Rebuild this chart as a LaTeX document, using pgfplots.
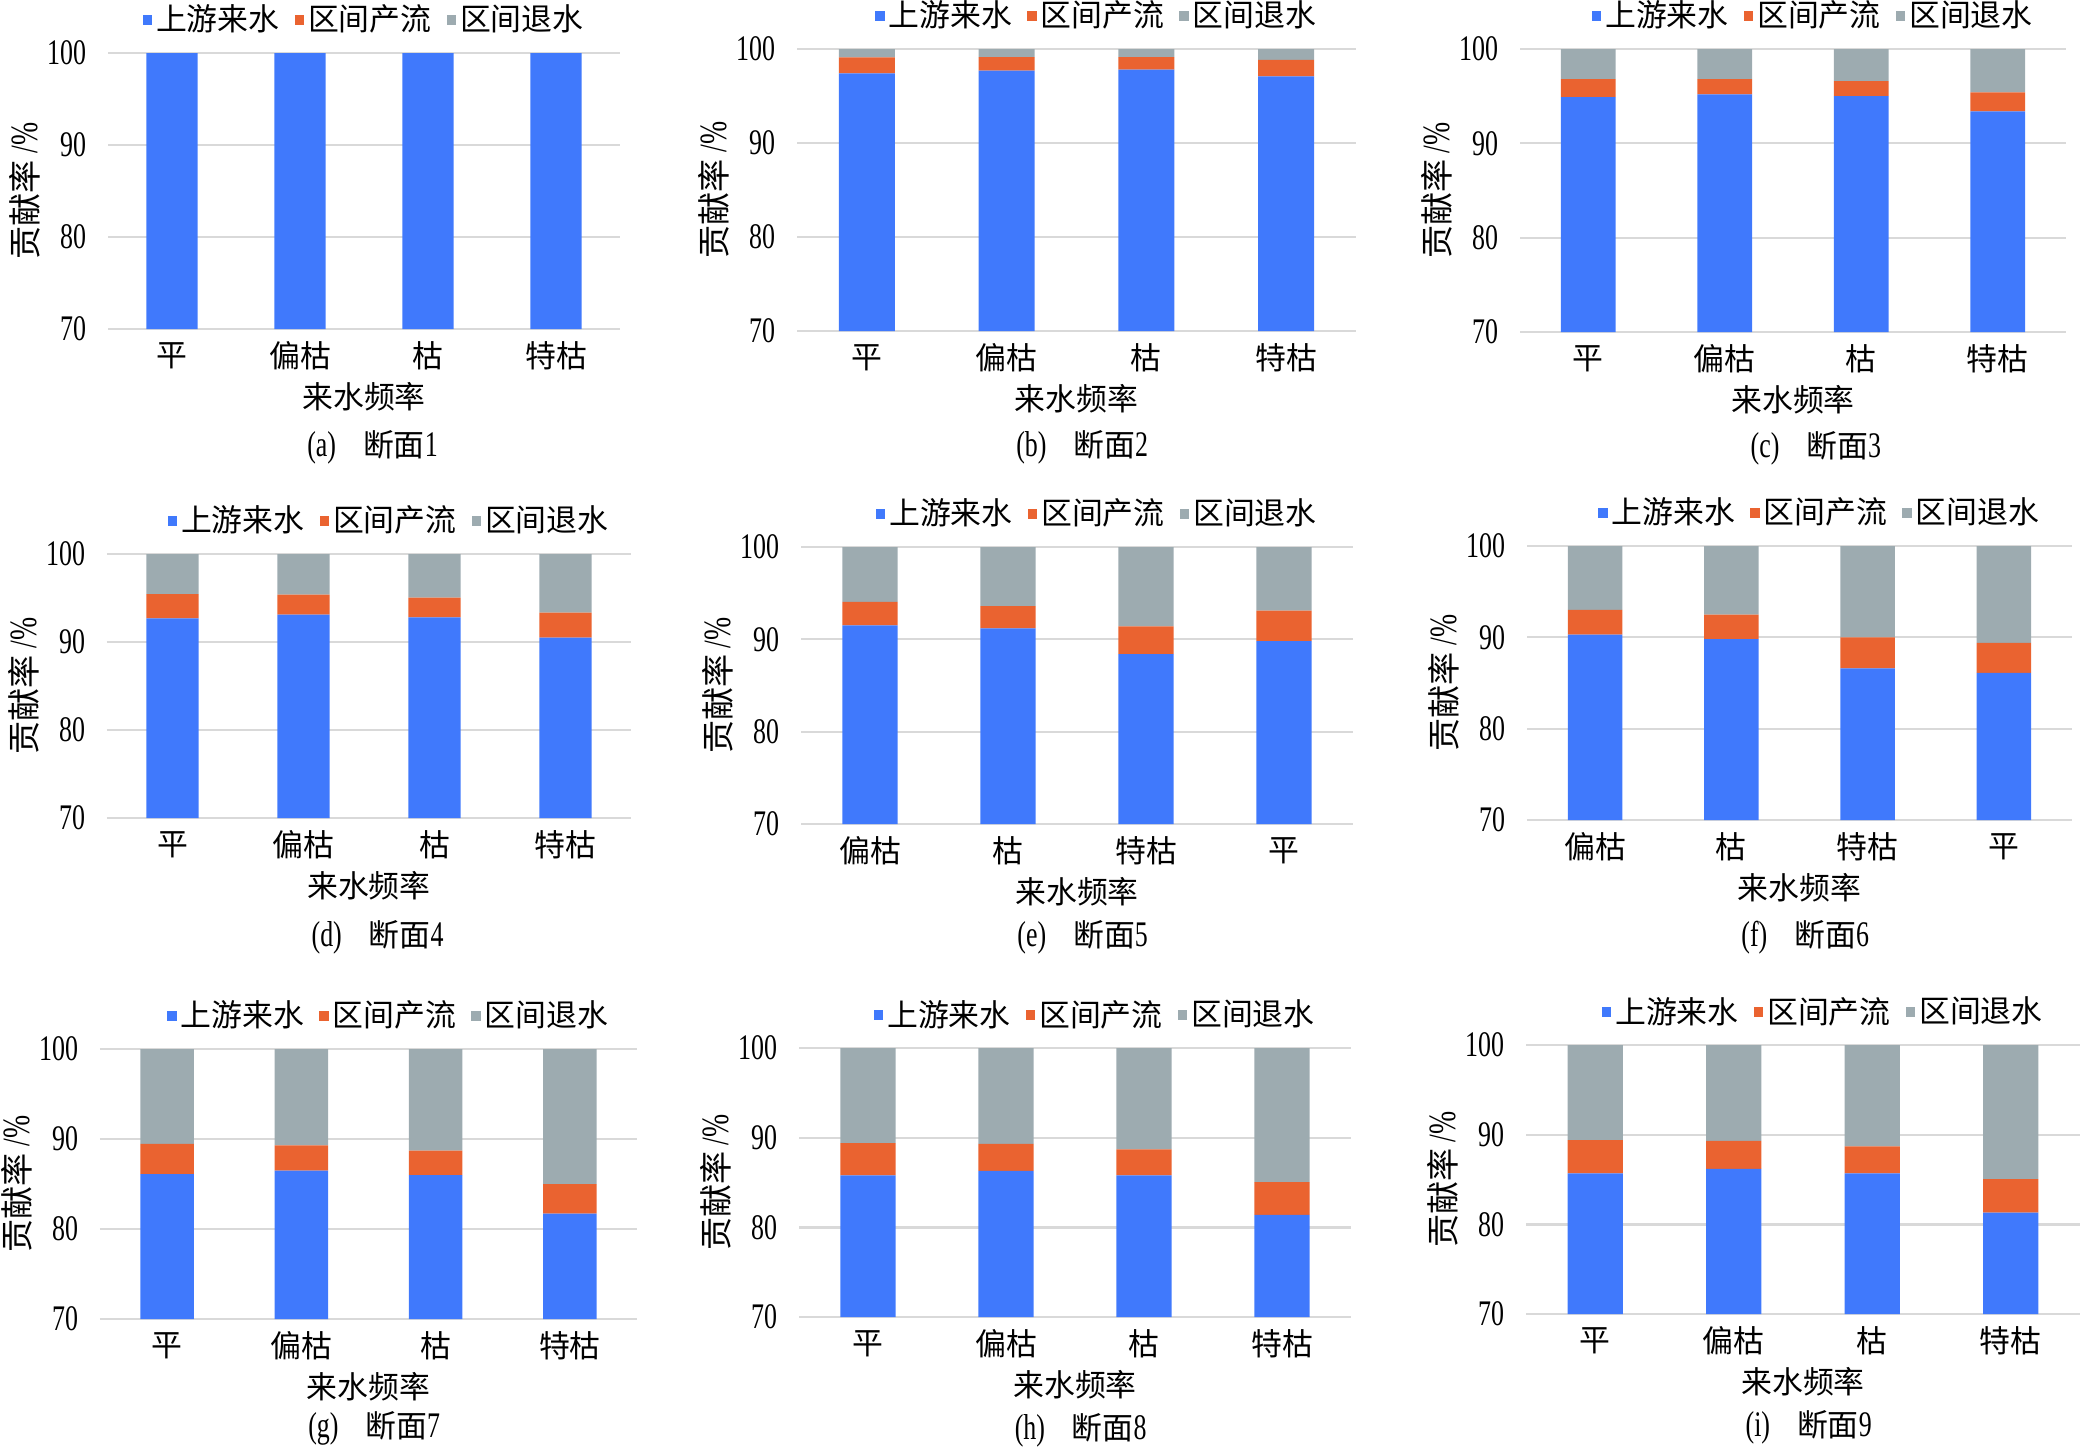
\documentclass[border=0pt]{standalone}
\usepackage{fontspec}
\setmainfont{Liberation Serif}[FakeStretch=0.72]
\newfontfamily\cjk{Noto Sans CJK SC}
\usepackage{pgfplots}
\pgfplotsset{compat=1.18}
\usepackage{pgfplotstable}

\definecolor{cUp}{RGB}{64,121,252}
\definecolor{cRun}{RGB}{234,99,48}
\definecolor{cRet}{RGB}{157,171,176}
\definecolor{cGrid}{RGB}{217,217,217}

% columns: i = category index, up = 上游来水, run = 区间产流, ret = 区间退水
\pgfplotstableread{
i up run ret
0 100 0 0
1 100 0 0
2 100 0 0
3 100 0 0
}\dA
\pgfplotstableread{
i up run ret
0 97.4 1.7 0.9
1 97.7 1.45 0.85
2 97.8 1.35 0.85
3 97.1 1.75 1.15
}\dB
\pgfplotstableread{
i up run ret
0 94.9 1.9 3.2
1 95.2 1.6 3.2
2 95.0 1.6 3.4
3 93.4 2.0 4.6
}\dC
\pgfplotstableread{
i up run ret
0 92.7 2.75 4.55
1 93.1 2.3 4.6
2 92.8 2.25 4.95
3 90.5 2.85 6.65
}\dD
\pgfplotstableread{
i up run ret
0 91.5 2.55 5.95
1 91.2 2.4 6.4
2 88.4 3.0 8.6
3 89.8 3.3 6.9
}\dE
\pgfplotstableread{
i up run ret
0 90.3 2.7 7.0
1 89.8 2.7 7.5
2 86.6 3.4 10.0
3 86.1 3.3 10.6
}\dF
\pgfplotstableread{
i up run ret
0 86.1 3.35 10.55
1 86.5 2.8 10.7
2 86.0 2.7 11.3
3 81.7 3.3 15.0
}\dG
\pgfplotstableread{
i up run ret
0 85.8 3.6 10.6
1 86.3 3.0 10.7
2 85.8 2.9 11.3
3 81.4 3.65 14.95
}\dH
\pgfplotstableread{
i up run ret
0 85.7 3.7 10.6
1 86.2 3.1 10.7
2 85.7 3.0 11.3
3 81.3 3.75 14.95
}\dI

\newcommand\cjkfont{\cjk\fontsize{10.8}{12}\selectfont}
\newcommand\latfont{\fontsize{12.6}{14}\selectfont}

\pgfplotsset{
  panel/.style={
    scale only axis, anchor=south west,
    ybar stacked, bar width=0.4,
    legend image code/.code={\fill[##1] (0pt,-1.7pt) rectangle (3.4pt,1.7pt);},
    xmin=-0.5, xmax=3.5, ymin=70, ymax=100,
    xtick={0,1,2,3}, ytick={70,80,90,100},
    ymajorgrids, grid style={cGrid, line width=0.8pt},
    axis line style={draw=none}, major tick length=0pt,
    clip mode=individual,
    /pgf/number format/assume math mode=true,
    yticklabel style={font=\latfont, anchor=east, inner sep=0pt, xshift=-7.5pt},
    xticklabel style={font=\cjkfont, anchor=center, inner sep=0pt, yshift=-9.45pt},
    legend style={at={(0.5,1)}, anchor=center, yshift=11.5pt, xshift=7.35pt,
      legend columns=3, draw=none, fill=none, inner sep=0pt,
      font=\cjkfont,
      nodes={inner sep=1.3pt},
      /tikz/every even column/.append style={column sep=4pt}},
  },
}

% one panel's three series and its axis labels
\newcommand\series[1]{%
  \addplot[fill=cUp, draw=none] table[x=i, y=up] {#1};
  \addlegendentry{上游来水}
  \addplot[fill=cRun, draw=none] table[x=i, y=run] {#1};
  \addlegendentry{区间产流}
  \addplot[fill=cRet, draw=none] table[x=i, y=ret] {#1};
  \addlegendentry{区间退水}
  \node[font=\cjkfont, yshift=-23.8pt] at (rel axis cs:0.5,0) {来水频率};
  \node[font=\fontsize{13.5}{14}\selectfont, rotate=90, yshift=29pt] at (rel axis cs:0,0.5) {{\cjk\fontsize{11.6}{12}\selectfont 贡献率}\,/\%};
}
% caption below a panel: letter, number, vertical offset, horizontal offset
\newcommand\panelcap[4]{%
  \node[font=\latfont, yshift=#3, xshift=#4] at (rel axis cs:0.5,0) {(#1)\hspace{0.75em}{\cjkfont 断面}#2};
}

\begin{document}
\begin{tikzpicture}
\useasboundingbox (0,0) rectangle (728pt,-506.8pt);

\begin{axis}[panel, at={(37.8pt,-115.15pt)}, width=179.2pt, height=96.6pt,
  xticklabels={平,偏枯,枯,特枯}, legend style={xshift=-7pt}]
\series{\dA}
\panelcap{a}{1}{-41.3pt}{3pt}
\end{axis}

\begin{axis}[panel, at={(278.95pt,-115.85pt)}, width=195.65pt, height=98.7pt,
  xticklabels={平,偏枯,枯,特枯}]
\series{\dB}
\panelcap{b}{2}{-40.6pt}{2pt}
\end{axis}

\begin{axis}[panel, at={(532pt,-116.2pt)}, width=191.1pt, height=99.05pt,
  xticklabels={平,偏枯,枯,特枯}]
\series{\dC}
\panelcap{c}{3}{-40.6pt}{8pt}
\end{axis}

\begin{axis}[panel, at={(37.45pt,-286.3pt)}, width=183.4pt, height=92.4pt,
  xticklabels={平,偏枯,枯,特枯}]
\series{\dD}
\panelcap{d}{4}{-41.6pt}{3pt}
\end{axis}

\begin{axis}[panel, at={(280.35pt,-288.4pt)}, width=193.2pt, height=96.95pt,
  xticklabels={偏枯,枯,特枯,平}]
\series{\dE}
\panelcap{e}{5}{-39.6pt}{2pt}
\end{axis}

\begin{axis}[panel, at={(534.45pt,-287pt)}, width=190.75pt, height=95.9pt,
  xticklabels={偏枯,枯,特枯,平}]
\series{\dF}
\panelcap{f}{6}{-41pt}{2pt}
\end{axis}

\begin{axis}[panel, at={(35pt,-461.65pt)}, width=187.95pt, height=94.5pt,
  xticklabels={平,偏枯,枯,特枯}]
\series{\dG}
\panelcap{g}{7}{-38.2pt}{2pt}
\end{axis}

\begin{axis}[panel, at={(279.65pt,-460.95pt)}, width=193.2pt, height=94.15pt,
  xticklabels={平,偏枯,枯,特枯}]
\series{\dH}
\panelcap{h}{8}{-39.5pt}{2pt}
\end{axis}

\begin{axis}[panel, at={(534.1pt,-459.9pt)}, width=193.9pt, height=94.15pt,
  xticklabels={平,偏枯,枯,特枯}]
\series{\dI}
\panelcap{i}{9}{-39.5pt}{2pt}
\end{axis}

\end{tikzpicture}
\end{document}
